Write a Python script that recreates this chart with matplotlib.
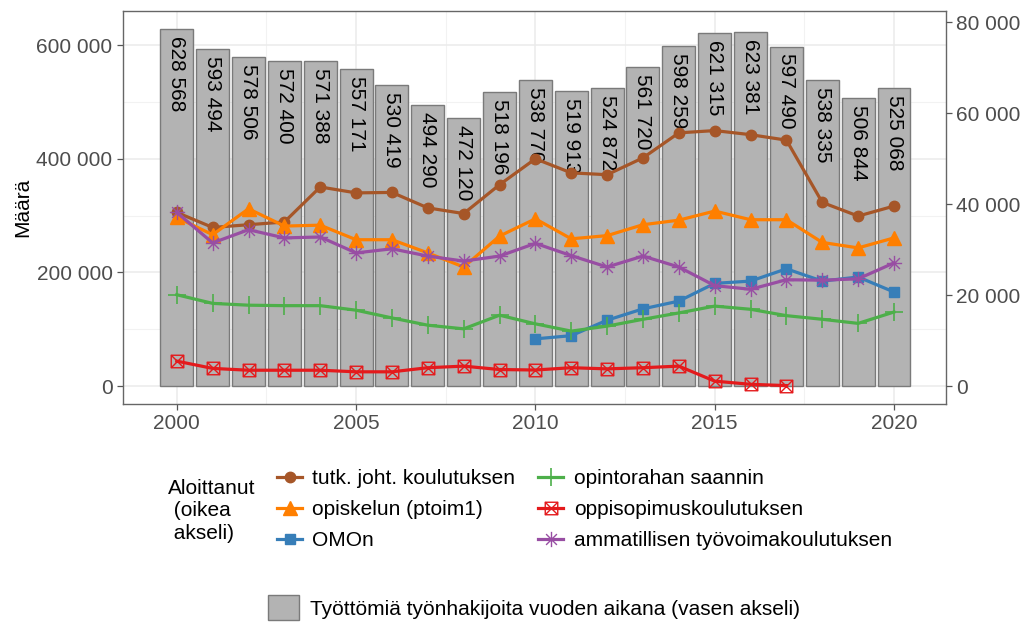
#!/usr/bin/env python3
"""Unemployed job seekers (bars, left axis) and education starts (lines, right axis), 2000-2020."""

import matplotlib.pyplot as plt
import numpy as np
from matplotlib.patches import Patch
from matplotlib.path import Path
from matplotlib.lines import Line2D

plt.rcParams["font.family"] = ["Liberation Sans", "DejaVu Sans"]

years = np.arange(2000, 2021)

# left axis: unemployed job seekers during the year
tyottomat = [628568, 593494, 578506, 572400, 571388, 557171, 530419, 494290,
             472120, 518196, 538770, 519913, 524872, 561720, 598259, 621315,
             623381, 597490, 538335, 506844, 525068]

# right axis: started
tutk_joht = [38200, 34900, 35500, 36100, 43800, 42500, 42600, 39200, 37950, 44300,
             50000, 46900, 46500, 50200, 55700, 56200, 55300, 54100, 40400, 37400, 39600]
opiskelun = [37100, 33300, 39000, 35200, 35400, 32200, 32200, 29300, 26200, 33000,
             36800, 32400, 33100, 35500, 36500, 38500, 36600, 36600, 31600, 30400, 32600]
omon = [None] * 10 + [10400, 11100, 14500, 17000, 18700, 22600, 23100, 25800,
                      23100, 24000, 20700]
opintoraha = [20100, 18200, 17800, 17700, 17700, 16700, 15000, 13400, 12600, 15600,
              13700, 12100, 13200, 14700, 16100, 17600, 16900, 15500, 14700, 13800, 16300]
oppisopimus = [5500, 3900, 3500, 3500, 3500, 3150, 3150, 4050, 4400, 3650,
               3550, 4050, 3800, 4050, 4400, 1100, 400, 120] + [None] * 3
ammatillinen = [38200, 31500, 34400, 32600, 32800, 29300, 30200, 28600, 27500, 28600,
                31400, 28700, 26200, 28600, 26200, 22100, 21300, 23400, 23300, 23600, 27100]

series_labels = ["tutk. joht. koulutuksen", "opiskelun (ptoim1)", "OMOn",
                 "opintorahan saannin", "oppisopimuskoulutuksen",
                 "ammatillisen työvoimakoulutuksen"]
bar_label = "Työttömiä työnhakijoita vuoden aikana (vasen akseli)"
legend_title = "Aloittanut\n (oikea\n akseli)"


def fmt(v):
    return f"{v:,.0f}".replace(",", " ")


def to_arr(vals):
    return np.array([np.nan if v is None else v for v in vals], dtype=float)


# custom markers: square with a cross, and an 8-armed asterisk
box_x = Path([(-1, -1), (1, -1), (1, 1), (-1, 1), (-1, -1), (-1, -1), (1, 1), (1, -1), (-1, 1)],
             [Path.MOVETO, Path.LINETO, Path.LINETO, Path.LINETO, Path.CLOSEPOLY,
              Path.MOVETO, Path.LINETO, Path.MOVETO, Path.LINETO])
s = 0.7071
asterisk = Path([(-1, 0), (1, 0), (0, -1), (0, 1), (-s, -s), (s, s), (-s, s), (s, -s)],
                [Path.MOVETO, Path.LINETO] * 4)

styles = [
    dict(color="#A65628", marker="o", ms=7.5),
    dict(color="#FF7F00", marker="^", ms=9.5),
    dict(color="#377EB8", marker="s", ms=7.5),
    dict(color="#4DAF4A", marker="+", ms=13, mew=1.2),
    dict(color="#E41A1C", marker=box_x, ms=9, mfc="none", mew=1.0),
    dict(color="#984EA3", marker=asterisk, ms=11, mfc="none", mew=1.0),
]

W, H = 1026, 623
fig = plt.figure(figsize=(W / 100, H / 100), dpi=100)
ax = fig.add_axes([123 / W, 1 - 404 / H, (946 - 123) / W, (404 - 11) / H])

grey_txt = "#4D4D4D"
ax.bar(years, tyottomat, width=0.92, color="#B3B3B3", edgecolor="#7A7A7A",
       linewidth=1.0, zorder=2)
for x, v in zip(years, tyottomat):
    ax.annotate(fmt(v), (x, v), xytext=(0, -5), textcoords="offset points",
                rotation=270, ha="center", va="top", fontsize=15, color="black", zorder=3)

ymax = max(tyottomat) * 1.05
ymin = -max(tyottomat) * 0.05
ax.set_ylim(ymin, ymax)
ax.set_xlim(1998.5, 2021.45)
ax.set_xticks(range(2000, 2021, 5))
ax.set_xticks(np.arange(2002.5, 2020, 5), minor=True)
ax.set_yticks(range(0, 600001, 200000))
ax.set_yticks(range(100000, 600000, 200000), minor=True)
ax.set_yticklabels([fmt(v) for v in range(0, 600001, 200000)])
ax.grid(True, which="major", color="#EBEBEB", linewidth=1.1, zorder=0)
ax.grid(True, which="minor", color="#F2F2F2", linewidth=0.8, zorder=0)
ax.set_axisbelow(True)
ax.tick_params(axis="both", which="major", labelsize=15, labelcolor=grey_txt,
               color="#555555", length=4, width=0.9)
ax.tick_params(axis="both", which="minor", length=0)
ax.set_ylabel("Määrä", fontsize=15, labelpad=3)
for sp in ax.spines.values():
    sp.set_color("#666666")
    sp.set_linewidth(1.0)

ax2 = ax.twinx()
ax2.set_ylim(ymin / 8, ymax / 8)
ax2.set_yticks(range(0, 80001, 20000))
ax2.set_yticklabels([fmt(v) for v in range(0, 80001, 20000)])
ax2.tick_params(axis="y", labelsize=15, labelcolor=grey_txt, color="#555555",
                length=4, width=0.9)
for sp in ax2.spines.values():
    sp.set_visible(False)

all_series = [tutk_joht, opiskelun, omon, opintoraha, oppisopimus, ammatillinen]
handles = []
for vals, st in zip(all_series, styles):
    y = to_arr(vals)
    ax2.plot(years, y, lw=2.3, zorder=4, **st)
    handles.append(Line2D([], [], lw=2.3, **st))

fig.legend(handles, series_labels, ncol=2, loc="upper left",
           bbox_to_anchor=(277 / W, 1 - 469 / H), frameon=False, fontsize=15,
           handlelength=1.2, handletextpad=0.5, columnspacing=1.1,
           labelspacing=0.58, borderpad=0, borderaxespad=0)
fig.text(168 / W, 1 - 511 / H, legend_title, fontsize=15, ha="left", va="center",
         linespacing=1.25)

fig.legend([Patch(facecolor="#B3B3B3", edgecolor="#7A7A7A", linewidth=1.0)], [bar_label],
           loc="upper left", bbox_to_anchor=(268 / W, 1 - 595 / H), frameon=False,
           fontsize=15, handlelength=1.5, handleheight=1.5, handletextpad=0.5,
           borderpad=0, borderaxespad=0)

fig.savefig("out.png", dpi=100)
